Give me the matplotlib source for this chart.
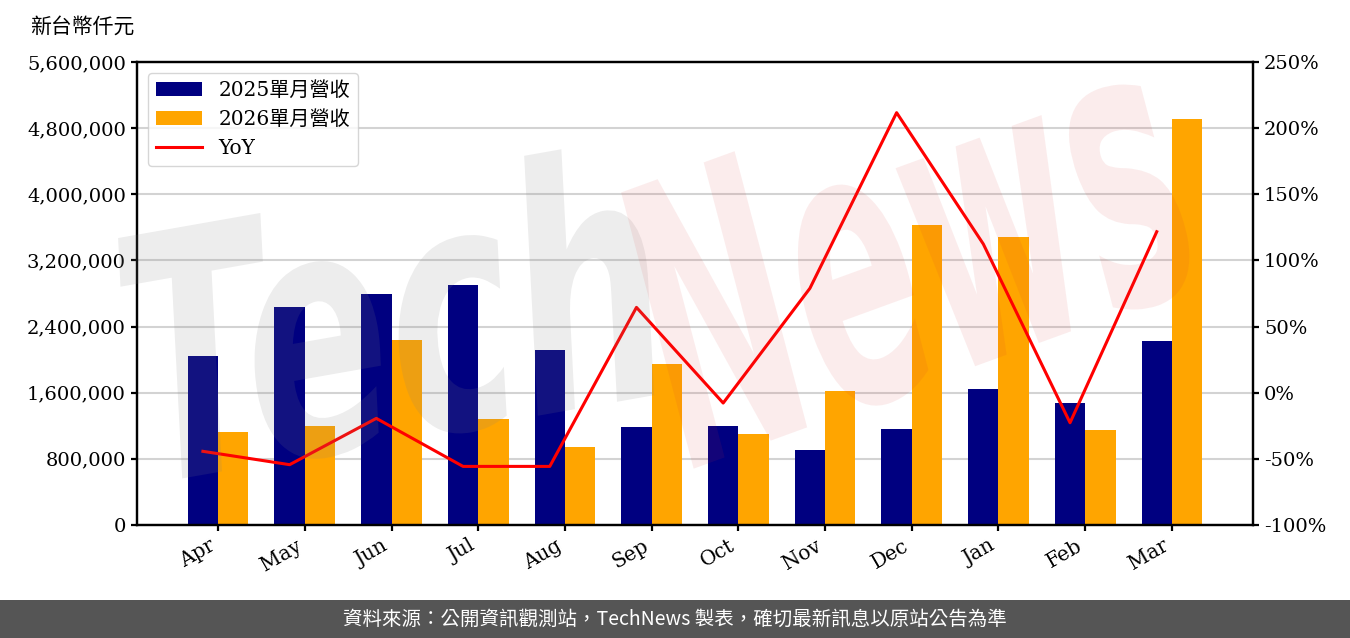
import matplotlib
matplotlib.use('Agg')
import matplotlib.pyplot as plt
import numpy as np
from matplotlib.ticker import FuncFormatter, MultipleLocator
from matplotlib.patches import Rectangle, PathPatch
from matplotlib.textpath import TextPath
from matplotlib.font_manager import FontProperties
from matplotlib.transforms import Affine2D

# ---------------- data ----------------
months = ['Apr', 'May', 'Jun', 'Jul', 'Aug', 'Sep', 'Oct', 'Nov', 'Dec', 'Jan', 'Feb', 'Mar']
rev_2025 = [2044000, 2637000, 2794000, 2903000, 2117000, 1185000,
            1197000, 907000, 1161000, 1645000, 1476000, 2226000]
rev_2026 = [1125000, 1197000, 2238000, 1282000, 943000, 1947000,
            1101000, 1621000, 3629000, 3483000, 1149000, 4911000]
yoy_pct = [-44.3, -54.4, -19.4, -55.7, -55.7, 64.5, -7.8, 78.9, 211.7, 112.4, -22.7, 121.7]
label_2025 = '2025單月營收'
label_2026 = '2026單月營收'
label_yoy = 'YoY'
unit_text = '新台幣仟元'
footer_text = '資料來源：公開資訊觀測站，TechNews 製表，確切最新訊息以原站公告為準'

# ---------------- style ----------------
plt.rcParams['font.family'] = ['DejaVu Serif', 'Noto Sans CJK TC']
plt.rcParams['font.size'] = 14
plt.rcParams['axes.unicode_minus'] = False
plt.rcParams['axes.linewidth'] = 1.6
plt.rcParams['xtick.major.width'] = 1.6
plt.rcParams['ytick.major.width'] = 1.6
plt.rcParams['xtick.major.size'] = 4.5
plt.rcParams['ytick.major.size'] = 4.5

W, H = 1350, 638
fig = plt.figure(figsize=(W / 100, H / 100), dpi=100)
ax = fig.add_axes([137 / W, 1 - 525 / H, (1253 - 137) / W, (525 - 62) / H])

x = np.arange(len(months))
bw = 0.35
ax.bar(x - bw / 2, rev_2025, bw, color='#000080', label=label_2025, zorder=2)
ax.bar(x + bw / 2, rev_2026, bw, color='#FFA500', label=label_2026, zorder=2)
ax.set_ylim(0, 5600000)
ax.yaxis.set_major_locator(MultipleLocator(800000))
ax.yaxis.set_major_formatter(FuncFormatter(lambda v, p: f'{int(v):,}'))
ax.grid(axis='y', color='#d3d3d3', linewidth=1.5)
ax.set_axisbelow(True)
ax.set_xticks(x)
ax.set_xticklabels(months, rotation=30, ha='right')
ax.tick_params(axis='x', labelsize=14.5)

ax2 = ax.twinx()
ax2.plot(x - bw / 2, yoy_pct, color='#FF0000', lw=2.2, label=label_yoy, zorder=3)
ax2.set_ylim(-100, 250)
ax2.yaxis.set_major_locator(MultipleLocator(50))
ax2.yaxis.set_major_formatter(FuncFormatter(lambda v, p: f'{int(round(v))}%'))

h1, l1 = ax.get_legend_handles_labels()
h2, l2 = ax2.get_legend_handles_labels()
ax2.legend(h1 + h2, l1 + l2, loc='upper left', handlelength=2.3,
           borderaxespad=0.55, fontsize=14.5, labelspacing=0.5)

fig.text(30 / W, 1 - 27 / H, unit_text, ha='left', va='center', fontsize=15)

# footer band
fig.patches.append(Rectangle((0, 0), 1, 38 / H, transform=fig.transFigure,
                             facecolor='#555555', edgecolor='none', zorder=0))
fig.text(0.5, 19 / H, footer_text, ha='center', va='center', fontsize=14,
         color='white', family=['Noto Sans CJK TC', 'DejaVu Sans'])

# watermark
wm_font = FontProperties(family='DejaVu Sans', weight='bold', style='italic')
tp1 = TextPath((0, 0), 'Tech', size=100, prop=wm_font)
tr1 = Affine2D().scale(2.15, 3.4).rotate_deg(10).translate(145, H - 485)
fig.add_artist(PathPatch(tp1, transform=tr1, facecolor=(0.5, 0.5, 0.5, 0.14),
                         edgecolor='none', zorder=10))
tp2 = TextPath((0, 0), 'News', size=100, prop=wm_font)
tr2 = Affine2D().scale(1.85, 3.9).rotate_deg(20).translate(690, H - 470)
fig.add_artist(PathPatch(tp2, transform=tr2, facecolor=(0.85, 0.2, 0.2, 0.09),
                         edgecolor='none', zorder=10))

fig.savefig('out.png', dpi=100)
